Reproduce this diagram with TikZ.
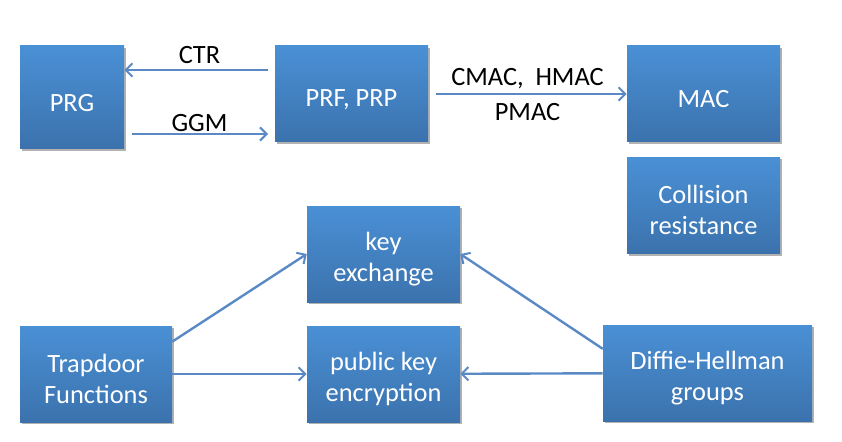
\documentclass[tikz,border=0pt]{standalone}
\usepackage{fontspec}
\setmainfont{Carlito}
\usetikzlibrary{arrows.meta,shadows}
\definecolor{boxtop}{HTML}{4A90D5}
\definecolor{boxbot}{HTML}{3B72AD}
\definecolor{arrblue}{HTML}{5A8AC6}
\begin{document}
\begin{tikzpicture}[x=0.75pt,y=-0.75pt,
    box/.style={rectangle,inner sep=2pt,align=center,text=white,
      top color=boxtop,bottom color=boxbot,draw=none,
      minimum width=114.75pt,minimum height=72pt,
      execute at begin node={\rule{0pt}{#1}},
      drop shadow={shadow xshift=1.5pt,shadow yshift=-1.5pt,opacity=0.3,fill=black}},
    box/.default=21pt,
    arr/.style={draw=arrblue,line width=1.8pt,-{Straight Barb[length=5pt,width=10pt,line width=1.5pt]}},
    lbl/.style={text=black}]
  \tikzstyle{every node}=[font=\fontsize{19.8}{23.25}\selectfont]
  \useasboundingbox (0,0) rectangle (842,442);
  \node[box,minimum width=78pt,minimum height=77.25pt] (prg) at (72,97.5) {PRG};
  \node[box] (prf) at (351.5,94) {PRF, PRP};
  \node[box] (mac) at (703.5,94) {MAC};
  \node[box=44pt] (coll) at (703.5,205.5) {Collision\\resistance};
  \node[box=44pt] (kex) at (383.5,254) {key\\exchange};
  \node[box=44pt] (pke) at (383.5,374) {public key\\encryption};
  \node[box=44pt,minimum width=114pt] (trap) at (96,374) {Trapdoor\\Functions};
  \node[box=44pt,minimum width=156.75pt] (dh) at (707.5,373) {Diffie-Hellman\\groups};
  \draw[arr,shorten <=5pt] ([yshift=18pt]prf.west) -- ([yshift=18pt]prf.west -| prg.east)
    node[lbl,midway,above=0.5pt] {CTR};
  \draw[arr,shorten <=6pt,shorten >=5pt] ([yshift=-30pt]prf.west -| prg.east) -- ([yshift=-30pt]prf.west)
    node[lbl,midway,above=-2.5pt] {GGM};
  \draw[arr,shorten <=6pt] (prf) -- (mac)
    node[lbl,midway,above=-0.5pt] {CMAC,\ \ HMAC}
    node[lbl,midway,below=3pt] {PMAC};
  \draw[arr] (trap.23) -- (kex.west);
  \draw[arr] (trap) -- (pke);
  \draw[arr] (dh.167) -- (kex.east);
  \draw[arr] (dh) -- (pke);
\end{tikzpicture}
\end{document}
